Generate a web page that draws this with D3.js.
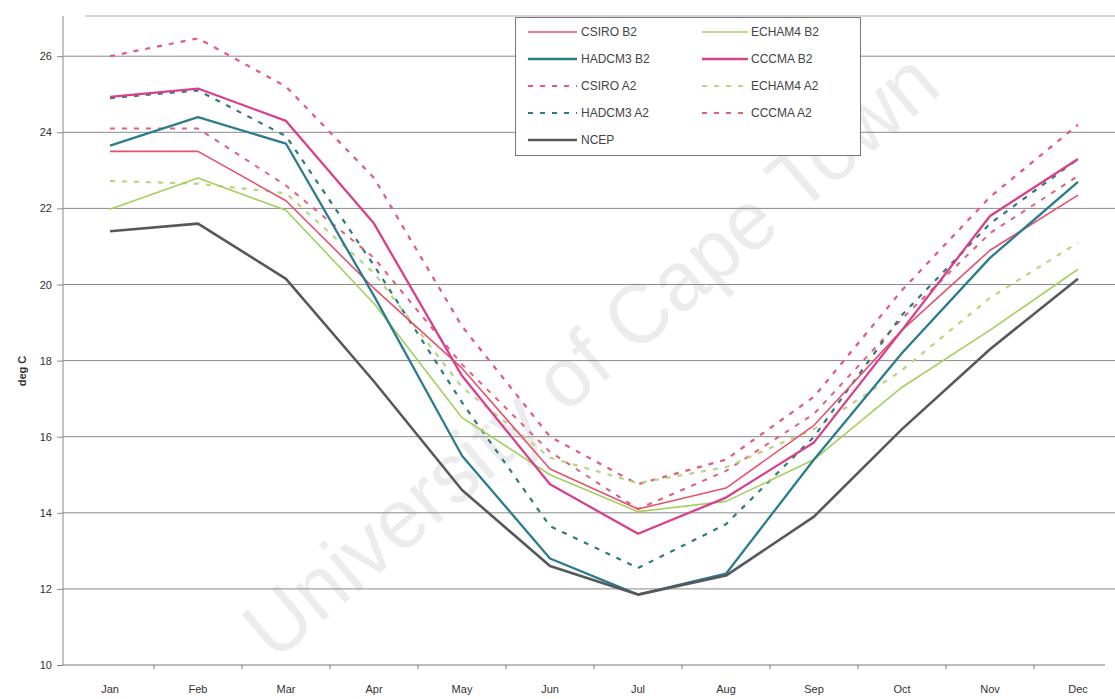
<!DOCTYPE html>
<html>
<head>
<meta charset="utf-8">
<script src="https://cdn.jsdelivr.net/npm/d3@7"></script>
<style>
  html, body { margin: 0; padding: 0; background: #fff; }
  svg { display: block; font-family: "Liberation Sans", Arial, sans-serif; }
</style>
</head>
<body>
<svg id="chart" width="1115" height="699"></svg>
<script>
const months = ["Jan","Feb","Mar","Apr","May","Jun","Jul","Aug","Sep","Oct","Nov","Dec"];
const yTicks = [10, 12, 14, 16, 18, 20, 22, 24, 26];

const csiroB2  = [23.5, 23.5, 22.2, 19.9, 17.8, 15.15, 14.1, 14.65, 16.3, 18.8, 20.9, 22.35];
const hadcm3B2 = [23.65, 24.4, 23.7, 19.7, 15.5, 12.8, 11.85, 12.4, 15.4, 18.2, 20.7, 22.7];
const echam4B2 = [21.98, 22.8, 21.95, 19.5, 16.5, 15.0, 14.03, 14.3, 15.4, 17.3, 18.8, 20.4];
const cccmaB2  = [24.93, 25.15, 24.3, 21.6, 17.6, 14.75, 13.45, 14.4, 15.85, 18.8, 21.8, 23.3];
const csiroA2  = [26.0, 26.47, 25.2, 22.8, 18.9, 16.0, 14.75, 15.4, 17.05, 19.85, 22.3, 24.2];
const echam4A2 = [22.72, 22.65, 22.4, 20.3, 17.3, 15.45, 14.78, 15.2, 16.2, 17.75, 19.65, 21.1];
const hadcm3A2 = [24.9, 25.1, 23.9, 20.5, 16.9, 13.65, 12.55, 13.7, 16.0, 19.2, 21.6, 23.3];
const cccmaA2  = [24.1, 24.1, 22.6, 20.7, 17.9, 15.6, 14.1, 15.1, 16.6, 19.1, 21.35, 22.85];
const ncep     = [21.4, 21.6, 20.15, 17.45, 14.6, 12.6, 11.85, 12.35, 13.9, 16.2, 18.3, 20.15];

const seriesNames = ["CSIRO B2","ECHAM4 B2","HADCM3 B2","CCCMA B2","CSIRO A2","ECHAM4 A2","HADCM3 A2","CCCMA A2","NCEP"];
const seriesValues = [csiroB2, echam4B2, hadcm3B2, cccmaB2, csiroA2, echam4A2, hadcm3A2, cccmaA2, ncep];

const styles = {
  "CSIRO B2":  {color: "#e8506e", width: 1.6, dash: null},
  "ECHAM4 B2": {color: "#a5cf5e", width: 1.6, dash: null},
  "HADCM3 B2": {color: "#2b7c8e", width: 2.3, dash: null},
  "CCCMA B2":  {color: "#d83f8c", width: 2.3, dash: null},
  "CSIRO A2":  {color: "#e4587a", width: 2.2, dash: "5,7"},
  "ECHAM4 A2": {color: "#b8d680", width: 2.2, dash: "5,7"},
  "HADCM3 A2": {color: "#2e7a80", width: 2.2, dash: "5,7"},
  "CCCMA A2":  {color: "#e0607e", width: 2.0, dash: "5,7"},
  "NCEP":      {color: "#55595e", width: 2.6, dash: null}
};

(function () {
const svg = d3.select("#chart");
const plotLeft = 63, plotBottom = 665, plotTop = 16;

const x = d3.scaleBand().domain(months).range([66, 1122]);
const y = d3.scaleLinear().domain([10, 27]).range([plotBottom, plotBottom - 17 * 38.05]);

// watermark
svg.append("text")
  .attr("transform", "translate(595,360) rotate(-40.5)")
  .attr("text-anchor", "middle")
  .attr("dominant-baseline", "middle")
  .attr("font-size", 84)
  .attr("textLength", 880)
  .attr("lengthAdjust", "spacingAndGlyphs")
  .attr("fill", "#ececec")
  .text("University of Cape Town");

// gridlines
svg.append("g").selectAll("line")
  .data(yTicks.filter(d => d > 10))
  .join("line")
  .attr("x1", plotLeft).attr("x2", 1115)
  .attr("y1", d => y(d)).attr("y2", d => y(d))
  .attr("stroke", "#8a8a8a").attr("stroke-width", 1);

// top border
svg.append("line")
  .attr("x1", 85).attr("x2", 1115).attr("y1", plotTop).attr("y2", plotTop)
  .attr("stroke", "#c8c8c8").attr("stroke-width", 1.5);

// y axis
const yAxis = svg.append("g")
  .attr("transform", `translate(${plotLeft},0)`)
  .call(d3.axisLeft(y).tickValues(yTicks).tickSize(6).tickPadding(5).tickFormat(d3.format("d")));
yAxis.select(".domain").attr("stroke", "#888").attr("d", `M0,${plotTop}V${plotBottom}`);
yAxis.selectAll(".tick line").attr("stroke", "#888");
yAxis.selectAll(".tick text").attr("font-size", 11).attr("fill", "#333")
  .attr("font-family", "Liberation Sans, Arial, sans-serif");

// x axis
const xAxis = svg.append("g")
  .attr("transform", `translate(0,${plotBottom})`)
  .call(d3.axisBottom(x).tickSize(0).tickPadding(20));
xAxis.select(".domain").attr("stroke", "#777").attr("d", `M${plotLeft},0H1105`);
xAxis.selectAll(".tick text").attr("font-size", 11).attr("fill", "#333")
  .attr("font-family", "Liberation Sans, Arial, sans-serif");
svg.append("g").selectAll("line")
  .data(months.slice(1))
  .join("line")
  .attr("x1", d => x(d)).attr("x2", d => x(d))
  .attr("y1", plotBottom).attr("y2", plotBottom + 4)
  .attr("stroke", "#777");

// y title
svg.append("text")
  .attr("transform", "translate(26,371) rotate(-90)")
  .attr("text-anchor", "middle")
  .attr("font-size", 11).attr("font-weight", "bold").attr("fill", "#333")
  .text("deg C");

// lines
const line = d3.line()
  .x((d, i) => x(months[i]) + x.bandwidth() / 2)
  .y(d => y(d));

const order = ["CSIRO A2","CCCMA A2","ECHAM4 A2","HADCM3 A2","ECHAM4 B2","CSIRO B2","HADCM3 B2","CCCMA B2","NCEP"];
svg.append("g").selectAll("path")
  .data(order)
  .join("path")
  .attr("d", n => line(seriesValues[seriesNames.indexOf(n)]))
  .attr("fill", "none")
  .attr("stroke", n => styles[n].color)
  .attr("stroke-width", n => styles[n].width)
  .attr("stroke-dasharray", n => styles[n].dash)
  .attr("stroke-linejoin", "round");

// legend
const lg = svg.append("g");
lg.append("rect")
  .attr("x", 515.5).attr("y", 17.5).attr("width", 345).attr("height", 138)
  .attr("fill", "#fff").attr("stroke", "#777").attr("stroke-width", 1);
const items = lg.selectAll("g.item").data(seriesNames).join("g")
  .attr("class", "item")
  .attr("transform", (d, i) => `translate(${i % 2 === 0 ? 528 : 702},${32 + Math.floor(i / 2) * 27})`);
items.append("line")
  .attr("x1", 0).attr("x2", (d, i) => i % 2 === 0 ? 49 : 46)
  .attr("y1", 0).attr("y2", 0)
  .attr("stroke", d => styles[d].color)
  .attr("stroke-width", d => styles[d].width)
  .attr("stroke-dasharray", d => styles[d].dash);
items.append("text")
  .attr("x", (d, i) => i % 2 === 0 ? 53 : 49)
  .attr("y", 0)
  .attr("dy", "0.35em")
  .attr("font-size", 12).attr("fill", "#444")
  .text(d => d);
})();
</script>
</body>
</html>
